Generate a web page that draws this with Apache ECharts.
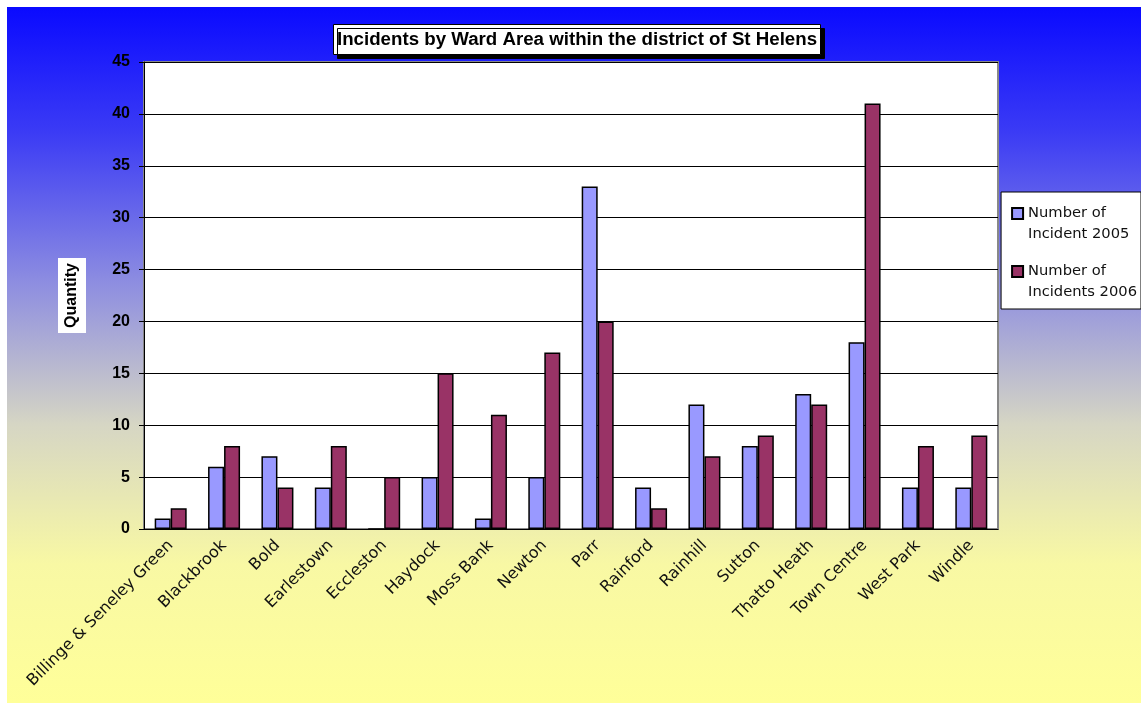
<!DOCTYPE html>
<html>
<head>
<meta charset="utf-8">
<script src="https://cdn.jsdelivr.net/npm/echarts@6/dist/echarts.min.js"></script>
<style>
    html, body { margin: 0; padding: 0; background: #fff; }
    #main { width: 1141px; height: 703px; }
</style>
</head>
<body>
<div id="main"></div>
<script>
    // ward areas and counts
    var wards = ['Billinge & Seneley Green', 'Blackbrook', 'Bold', 'Earlestown', 'Eccleston',
        'Haydock', 'Moss Bank', 'Newton', 'Parr', 'Rainford', 'Rainhill', 'Sutton',
        'Thatto Heath', 'Town Centre', 'West Park', 'Windle'];
    var incidents2005 = [1, 6, 7, 4, 0, 5, 1, 5, 33, 4, 12, 8, 13, 18, 4, 4];
    var incidents2006 = [2, 8, 4, 8, 5, 15, 11, 17, 20, 2, 7, 9, 12, 41, 8, 9];
    var seriesNames = ['Number of\nIncident 2005', 'Number of\nIncidents 2006'];

    var chart = echarts.init(document.getElementById('main'));
    var font = 'Liberation Sans, Arial, sans-serif';
    // square at the top of a tall box so the swatch sits beside the first line
    var legendIcon = 'path://M0,0M0,42M0,5h11v11h-11z';

    var option = {
        animation: false,
        graphic: [{
            type: 'rect',
            z: -10,
            shape: {x: 7, y: 7, width: 1134, height: 696},
            style: {
                fill: new echarts.graphic.LinearGradient(0, 0, 0, 1, [
                    {offset: 0, color: '#0a0aff'},
                    {offset: 0.18, color: '#3b3bf5'},
                    {offset: 0.4, color: '#8f8fe0'},
                    {offset: 0.6, color: '#d6d6c4'},
                    {offset: 0.8, color: '#f8f8a4'},
                    {offset: 1, color: '#ffff99'}
                ])
            }
        }],
        title: {
            text: 'Incidents by Ward Area within the district of St Helens',
            left: 333,
            top: 24,
            padding: [6, 4, 6, 4],
            backgroundColor: '#fff',
            borderColor: '#000',
            borderWidth: 1,
            shadowColor: '#000',
            shadowOffsetX: 4,
            shadowOffsetY: 4,
            textStyle: {fontFamily: font, fontSize: 18.7, fontWeight: 'bold', color: '#000'}
        },
        legend: {
            orient: 'vertical',
            right: 0,
            top: 192,
            padding: [10, 4, 5, 10],
            backgroundColor: '#fff',
            borderColor: '#000',
            borderWidth: 1,
            icon: legendIcon,
            itemWidth: 11,
            itemHeight: 42,
            itemGap: 14,
            textStyle: {fontFamily: 'DejaVu Sans, sans-serif', fontSize: 14.7, lineHeight: 21, color: '#111'},
            data: seriesNames
        },
        grid: {
            left: 144,
            right: 143,
            top: 62,
            bottom: 174,
            show: true,
            backgroundColor: '#fff',
            borderColor: '#888',
            borderWidth: 2
        },
        xAxis: {
            type: 'category',
            data: wards,
            axisLine: {lineStyle: {color: '#000', width: 1}},
            axisTick: {length: 5, lineStyle: {color: '#000'}},
            axisLabel: {
                rotate: 45,
                margin: 14,
                interval: 0,
                fontFamily: 'DejaVu Sans, sans-serif',
                fontSize: 16,
                color: '#111'
            }
        },
        yAxis: {
            type: 'value',
            min: 0,
            max: 45,
            interval: 5,
            name: 'Quantity',
            nameLocation: 'middle',
            nameRotate: 90,
            nameGap: 58,
            nameTextStyle: {
                fontFamily: font, fontSize: 16, fontWeight: 'bold', color: '#000',
                backgroundColor: '#fff', padding: [6, 5, 6, 5]
            },
            axisLine: {show: true, lineStyle: {color: '#000', width: 1}},
            axisTick: {show: true, length: 5, lineStyle: {color: '#000'}},
            axisLabel: {fontFamily: font, fontSize: 16, fontWeight: 'bold', color: '#000', margin: 14},
            splitLine: {lineStyle: {color: '#000', width: 1}}
        },
        series: [{
            name: seriesNames[0],
            type: 'bar',
            data: incidents2005,
            barWidth: 16,
            barGap: '0%',
            itemStyle: {color: '#9999ff', borderColor: '#000', borderWidth: 1.5}
        }, {
            name: seriesNames[1],
            type: 'bar',
            data: incidents2006,
            barWidth: 16,
            itemStyle: {color: '#993366', borderColor: '#000', borderWidth: 1.5}
        }]
    };

    chart.setOption(option);
</script>
</body>
</html>
